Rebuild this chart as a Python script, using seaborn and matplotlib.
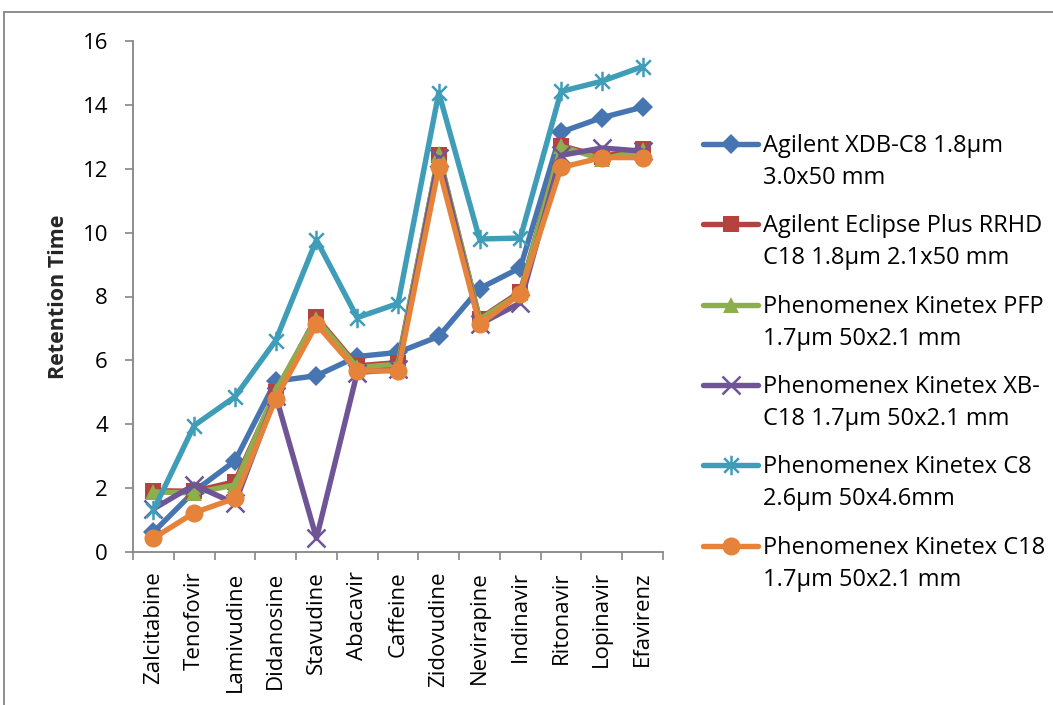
import numpy as np
import pandas as pd
import matplotlib
matplotlib.use("Agg")
import matplotlib.pyplot as plt
import seaborn as sns
from matplotlib.path import Path
from matplotlib.lines import Line2D

categories = ["Zalcitabine", "Tenofovir", "Lamivudine", "Didanosine", "Stavudine",
              "Abacavir", "Caffeine", "Zidovudine", "Nevirapine", "Indinavir",
              "Ritonavir", "Lopinavir", "Efavirenz"]

agilent_xdb_c8 = [0.62, 1.9, 2.85, 5.35, 5.52, 6.12, 6.25, 6.75, 8.25, 8.9, 13.15, 13.6, 13.93]
agilent_eclipse = [1.92, 1.9, 2.2, 5.0, 7.35, 5.83, 5.93, 12.42, 7.3, 8.15, 12.72, 12.38, 12.62]
kinetex_pfp = [1.88, 1.85, 2.1, 5.05, 7.3, 5.78, 5.88, 12.45, 7.28, 8.1, 12.7, 12.3, 12.58]
kinetex_xb_c18 = [1.35, 2.1, 1.52, 4.9, 0.43, 5.62, 5.72, 12.35, 7.13, 7.8, 12.42, 12.65, 12.55]
kinetex_c8 = [1.3, 3.96, 4.86, 6.62, 9.77, 7.34, 7.78, 14.38, 9.8, 9.83, 14.42, 14.74, 15.2]
kinetex_c18 = [0.43, 1.23, 1.68, 4.8, 7.13, 5.67, 5.67, 12.04, 7.13, 8.08, 12.04, 12.35, 12.35]

series_names = ["Agilent XDB-C8 1.8µm\n3.0x50 mm",
                "Agilent Eclipse Plus RRHD\nC18 1.8µm 2.1x50 mm",
                "Phenomenex Kinetex PFP\n1.7µm 50x2.1 mm",
                "Phenomenex Kinetex XB-\nC18 1.7µm 50x2.1 mm",
                "Phenomenex Kinetex C8\n2.6µm 50x4.6mm",
                "Phenomenex Kinetex C18\n1.7µm 50x2.1 mm"]
series_values = [agilent_xdb_c8, agilent_eclipse, kinetex_pfp, kinetex_xb_c18, kinetex_c8, kinetex_c18]

sns.set_theme(style="white")
plt.rcParams['font.family'] = ['Open Sans', 'DejaVu Sans']

FS = 16
colors = ["#4675B2", "#B4433F", "#8DAE4D", "#6F5596", "#3F9DB8", "#E6833A"]
asterisk = Path([(0, -1), (0, 1), (-0.75, -0.75), (0.75, 0.75), (-0.75, 0.75), (0.75, -0.75)],
                [Path.MOVETO, Path.LINETO, Path.MOVETO, Path.LINETO, Path.MOVETO, Path.LINETO])
markers = ["D", "s", "^", "x", asterisk, "o"]
msizes = [10, 11.5, 11, 13, 14, 13]
mews = [0, 0, 0, 1.8, 1.8, 0]
LW = 3.9

W, H = 1053, 705
fig = plt.figure(figsize=(W / 100, H / 100), dpi=100)
ax = fig.add_axes([133 / W, 1 - 552 / H, (663 - 133) / W, (552 - 41) / H])

x = np.arange(len(categories))
for name, vals, c, m, ms, mew in zip(series_names, series_values, colors, markers, msizes, mews):
    df = pd.DataFrame({"x": x, "y": vals})
    sns.lineplot(data=df, x="x", y="y", ax=ax, color=c, linewidth=LW, legend=False,
                 marker=m, markersize=ms, markeredgewidth=mew, markeredgecolor=c,
                 markerfacecolor=c)

ax.set_xlim(-0.5, len(categories) - 0.5)
ax.set_ylim(0, 16)
ax.set_yticks(np.arange(0, 17, 2))
ax.set_xticks(x)
ax.set_xticklabels(categories, rotation=90, fontsize=FS)
ax.set_xticks(np.arange(-0.5, len(categories), 1), minor=True)
ax.tick_params(axis="x", which="major", length=0, pad=14, colors="black")
ax.tick_params(axis="x", which="minor", length=6, width=1.2, color="#868686", bottom=True)
ax.tick_params(axis="y", which="major", length=6, width=1.2, color="#868686", left=True,
               labelsize=FS, pad=12, labelcolor="black")
ax.set_xlabel("")
ax.set_ylabel("Retention Time", fontsize=FS - 0.5, fontweight="bold")
ax.yaxis.set_label_coords(-0.12, 0.5)
for s in ["top", "right"]:
    ax.spines[s].set_visible(False)
for s in ["left", "bottom"]:
    ax.spines[s].set_color("#868686")
    ax.spines[s].set_linewidth(1.3)
ax.grid(False)

# legend (Excel-like: marker aligned with the first text line)
for i, (name, c, m, ms, mew) in enumerate(zip(series_names, colors, markers, msizes, mews)):
    yc = 144 + 80.3 * i
    fig.add_artist(Line2D([703 / W, 730.5 / W, 758 / W], [1 - yc / H] * 3, color=c, linewidth=LW,
                          solid_capstyle="round",
                          marker=m, markersize=ms, markeredgewidth=mew, markeredgecolor=c,
                          markerfacecolor=c, markevery=[1]))
    for j, line in enumerate(name.split("\n")):
        yb = 152 + 80.3 * i + 32 * j
        fig.text(763 / W, 1 - yb / H, line, fontsize=FS + 1, ha="left", va="baseline", color="black")

# outer chart border
fig.add_artist(Line2D([4 / W, 1.0], [1 - 12 / H, 1 - 12 / H], color="#868686", linewidth=1.3))
fig.add_artist(Line2D([4 / W, 4 / W], [0, 1 - 12 / H], color="#868686", linewidth=1.3))

fig.savefig("out.png", dpi=100)
